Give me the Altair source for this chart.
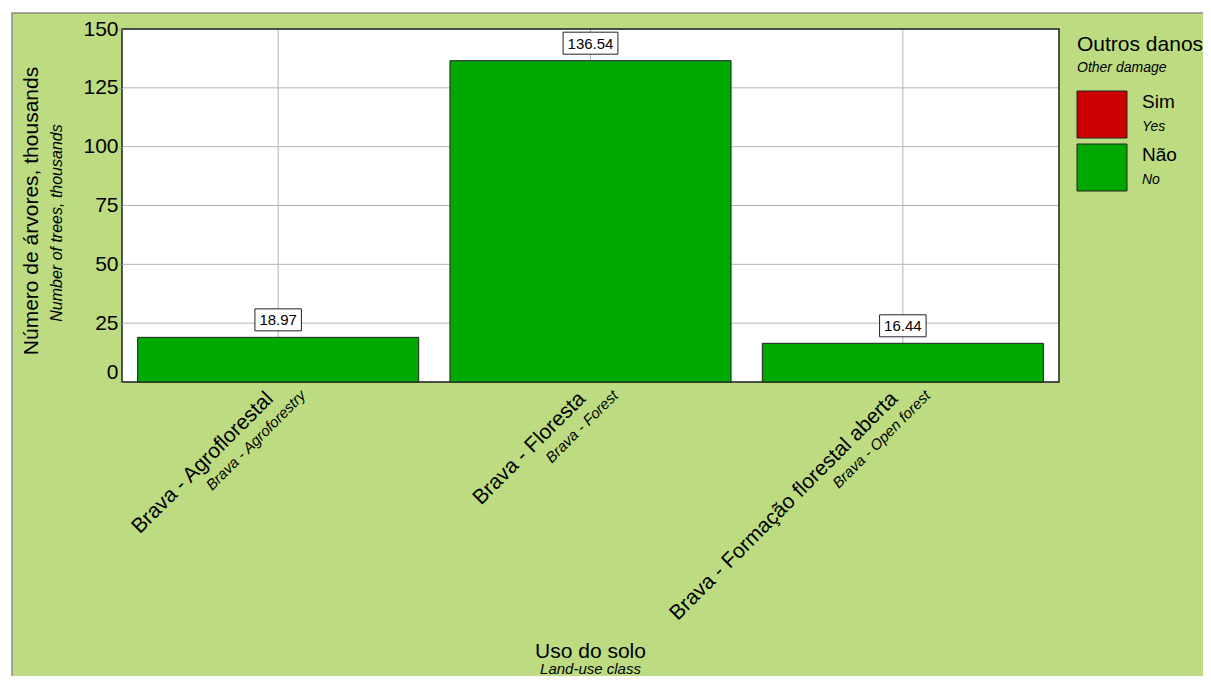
import altair as alt
import pandas as pd

# ---- data ----
categories = ["Brava - Agroflorestal", "Brava - Floresta", "Brava - Formação florestal aberta"]
categories_en = ["Brava - Agroforestry", "Brava - Forest", "Brava - Open forest"]
values = [18.97, 136.54, 16.44]
damage = ["Não", "Não", "Não"]
legend_pt = ["Sim", "Não"]
legend_en = ["Yes", "No"]
legend_colors = ["#cc0000", "#00a800"]
y_ticks = [0, 25, 50, 75, 100, 125, 150]

W, H = 937, 353
FONT = "Liberation Sans"
BG = "#bddc82"
GRID = "#b4b4b4"
DARK = "#222222"

bars_df = pd.DataFrame({
    "cat": categories,
    "cat_en": categories_en,
    "value": values,
    "damage": damage,
    "label": [f"{v:.2f}" for v in values],
})
leg_df = pd.DataFrame({"damage": legend_pt, "en": legend_en})
tick_df = pd.DataFrame({"t": y_ticks})
one = pd.DataFrame({"k": [0]})

xscale = alt.Scale(domain=categories, paddingInner=0.1, paddingOuter=0.05)
yscale = alt.Scale(domain=[0, 150], nice=False, zero=True)
color_scale = alt.Scale(domain=legend_pt, range=legend_colors)

X = alt.X("cat:N", scale=xscale, sort=categories, axis=None)
Yq = alt.Y("value:Q", scale=yscale, axis=None)

base = alt.Chart(bars_df)

bg = alt.Chart(one).mark_rect(fill=BG, stroke="#8a8a8a", strokeWidth=1.5).encode(
    x=alt.value(-110), x2=alt.value(1200), y=alt.value(-16), y2=alt.value(720)
)
plot_bg = alt.Chart(one).mark_rect(fill="white").encode(
    x=alt.value(0), x2=alt.value(W), y=alt.value(0), y2=alt.value(H)
)
vgrid = base.mark_rule(color=GRID, strokeWidth=1).encode(
    x=X, y=alt.value(0), y2=alt.value(H)
)
hgrid = alt.Chart(tick_df).mark_rule(color=GRID, strokeWidth=1).encode(
    y=alt.Y("t:Q", scale=yscale, axis=None), x=alt.value(0), x2=alt.value(W)
)
frame = alt.Chart(one).mark_rect(fill=None, stroke=DARK, strokeWidth=1.5).encode(
    x=alt.value(0), x2=alt.value(W), y=alt.value(0), y2=alt.value(H)
)

bars = base.mark_bar(stroke=DARK, strokeWidth=1).encode(
    x=X,
    y=alt.Y(
        "value:Q",
        scale=yscale,
        title=None,
        axis=alt.Axis(
            values=y_ticks,
            grid=False,
            domain=False,
            tickSize=3,
            tickColor="#999999",
            labelFontSize=21,
            labelFont=FONT,
            labelColor="black",
            labelPadding=1,
            labelBaseline={"condition": {"test": "datum.value === 0", "value": "bottom"}, "value": "middle"},
            zindex=1,
        ),
    ),
    color=alt.Color("damage:N", scale=color_scale, legend=None),
)

boxes = base.transform_calculate(bw="8.34*length(datum.label) + 4.8").mark_tick(
    thickness=22, fill="white", stroke=DARK, strokeWidth=1, opacity=1, yOffset=-17.5, orient="horizontal"
).encode(x=X, y=Yq, size=alt.Size("bw:Q", scale=None, legend=None))

vals = base.mark_text(fontSize=15, font=FONT, color="black", baseline="middle", yOffset=-17).encode(
    x=X, y=Yq, text="label:N"
)

xlab = base.mark_text(angle=315, align="right", baseline="top", fontSize=21, font=FONT, color="black", xOffset=-16).encode(
    x=X, y=alt.value(H + 6), text="cat:N"
)
xlab_en = base.mark_text(angle=315, align="right", baseline="top", fontSize=15, font=FONT, fontStyle="italic",
                         color="black", xOffset=20).encode(
    x=X, y=alt.value(H + 6), text="cat_en:N"
)

xtitle = alt.Chart(one).mark_text(fontSize=21, font=FONT, color="black", baseline="middle").encode(
    x=alt.value(W / 2), y=alt.value(623), text=alt.value("Uso do solo")
)
xtitle_en = alt.Chart(one).mark_text(fontSize=15, font=FONT, fontStyle="italic", color="black", baseline="middle").encode(
    x=alt.value(W / 2), y=alt.value(640), text=alt.value("Land-use class")
)
ytitle = alt.Chart(one).mark_text(fontSize=21, font=FONT, color="black", baseline="middle", angle=270).encode(
    x=alt.value(-90), y=alt.value(182), text=alt.value("Número de árvores, thousands")
)
ytitle_en = alt.Chart(one).mark_text(fontSize=16, font=FONT, fontStyle="italic", color="black", baseline="middle", angle=270).encode(
    x=alt.value(-65), y=alt.value(194), text=alt.value("Number of trees, thousands")
)

LY = alt.Y("damage:N", scale=alt.Scale(type="point", domain=legend_pt, range=[85.5, 138.5], padding=0), axis=None)

leg_title = alt.Chart(one).mark_text(fontSize=21, font=FONT, color="black", align="left", baseline="middle").encode(
    x=alt.value(955), y=alt.value(16), text=alt.value("Outros danos")
)
leg_title_en = alt.Chart(one).mark_text(fontSize=14, font=FONT, fontStyle="italic", color="black", align="left", baseline="middle").encode(
    x=alt.value(955), y=alt.value(39), text=alt.value("Other damage")
)
leg_sw = alt.Chart(leg_df).mark_point(
    shape="M-1,-0.94L1,-0.94L1,0.94L-1,0.94Z", size=2500, filled=True, stroke=DARK, strokeWidth=1, opacity=1
).encode(x=alt.value(980), y=LY, color=alt.Color("damage:N", scale=color_scale, legend=None))
leg_lab = alt.Chart(leg_df).mark_text(fontSize=19, font=FONT, color="black", align="left", baseline="middle", yOffset=-12.5).encode(
    x=alt.value(1020), y=LY, text="damage:N"
)
leg_lab_en = alt.Chart(leg_df).mark_text(fontSize=14, font=FONT, fontStyle="italic", color="black", align="left", baseline="middle", yOffset=12.5).encode(
    x=alt.value(1020), y=LY, text="en:N"
)

chart = alt.layer(
    bg, plot_bg, vgrid, hgrid, frame, bars, boxes, vals, xlab, xlab_en,
    xtitle, xtitle_en, ytitle, ytitle_en,
    leg_title, leg_title_en, leg_sw, leg_lab, leg_lab_en,
).resolve_scale(y="independent").properties(
    width=W, height=H,
    autosize=alt.AutoSizeParams(type="none"),
    padding={"left": 114, "top": 21, "right": 144, "bottom": 294},
    background="white",
).configure_view(stroke=None)

chart.save("out.html", embed_options={"renderer": "svg", "actions": False})
